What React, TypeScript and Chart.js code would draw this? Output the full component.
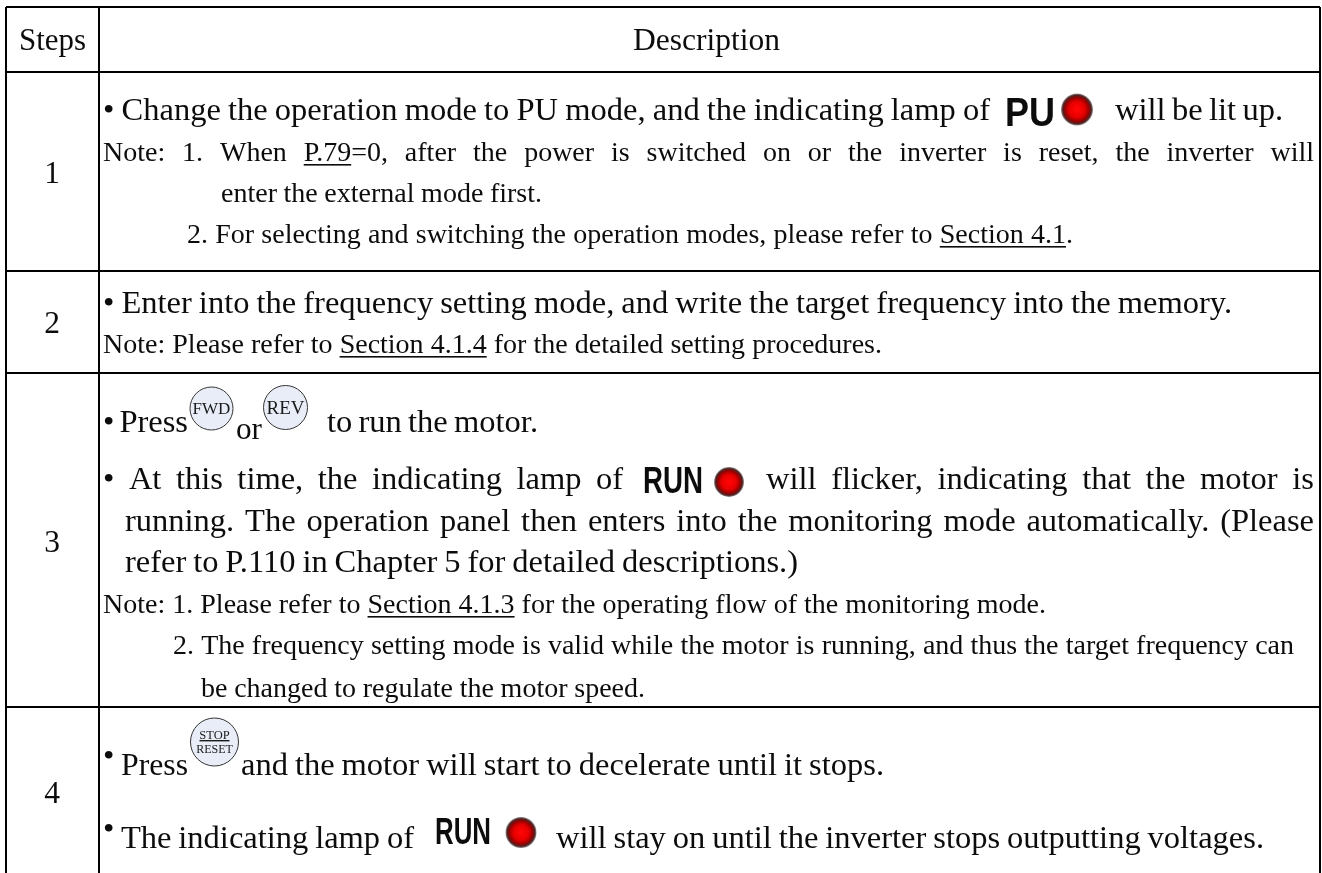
import React, { useEffect, useRef } from "react";
import { Chart, registerables } from "chart.js";

Chart.register(...registerables);

// ---- content ----
const headerLabels = ["Steps", "Description"];
const stepLabels = ["1", "2", "3", "4"];
const bodyLines = [
  "• Change the operation mode to PU mode, and the indicating lamp of",
  "will be lit up.",
  "• Enter into the frequency setting mode, and write the target frequency into the memory.",
  "• Press",
  "or",
  "to run the motor.",
  "• At this time, the indicating lamp of",
  "will flicker, indicating that the motor is",
  "running. The operation panel then enters into the monitoring mode automatically. (Please",
  "refer to P.110 in Chapter 5 for detailed descriptions.)",
  "Press",
  "and the motor will start to decelerate until it stops.",
  "The indicating lamp of",
  "will stay on until the inverter stops outputting voltages.",
];
const noteLines = [
  "Note: 1. When P.79=0, after the power is switched on or the inverter is reset, the inverter will",
  "enter the external mode first.",
  "2. For selecting and switching the operation modes, please refer to Section 4.1.",
  "Note: Please refer to Section 4.1.4 for the detailed setting procedures.",
  "Note: 1. Please refer to Section 4.1.3 for the operating flow of the monitoring mode.",
  "2. The frequency setting mode is valid while the motor is running, and thus the target frequency can",
  "be changed to regulate the motor speed.",
];
const underlinedParts = ["Section 4.1.4", "Section 4.1.3", "Section 4.1", "P.79"];
const panelLabels = ["PU", "RUN", "RUN"];
const buttonLabels = ["FWD", "REV", "STOP", "RESET"];
const bulletMark = "•";

// ---- table geometry, in the axis units of the chart ----
const columnEdges = [6, 99, 1320];
const rowEdges = [7, 72, 271, 373, 707];
const tableBottom = 873;
const tableRight = 1320;

// ---- marks ----
const buttonX = [211.5, 285.5, 214.5];
const buttonY = [408.5, 407.5, 742];
const buttonR = [21.5, 22, 24];
const lampX = [1077, 729, 521];
const lampY = [109.5, 482, 832.5];
const lampR = [16, 15, 15.5];

// ---- text layout: [start, end, baseline] ----
const headerPos = [[19, 86, 50], [633, 780, 50]];
const stepPos = [[52, 183], [52, 333], [52, 552], [52, 803]];
const bodyPos = [
  [103, 990, 120], [1115, 1283, 120], [103, 1232, 313], [103, 188, 432], [236, 262, 439],
  [327, 538, 432], [103, 623, 489], [766, 1314, 489], [125, 1314, 531], [125, 798, 572],
  [121, 188, 775], [241, 884, 775], [121, 414, 848], [556, 1264, 848],
];
const notePos = [
  [103, 1314, 161], [221, 542, 202], [187, 1073, 243], [103, 882, 353],
  [103, 1046, 613], [173, 1294, 654], [201, 645, 697],
];
const panelPos = [[1005, 1055, 126, 40], [643, 703, 493, 36], [435, 491, 844, 36]];
const buttonTextPos = [[211.5, 414, 17], [285.5, 414, 19], [214.5, 738.5, 12.5], [214.5, 753, 12]];
const raisedBullets = [[103, 766], [103, 839]];
const BODY_SIZE = 32.5;
const NOTE_SIZE = 28;
const HEAD_SIZE = 31.5;

const SERIF = '"Liberation Serif", "Times New Roman", serif';
const SANS = '"Liberation Sans", Arial, sans-serif';
const INK = "#0c0c0c";

function fitText(ctx: any, text: string, x0: number, x1: number, y: number, font: string) {
  ctx.font = font;
  ctx.wordSpacing = "0px";
  const natural = ctx.measureText(text).width;
  const gaps = (text.match(/ /g) || []).length;
  const target = x1 - x0;
  ctx.textAlign = "left";
  ctx.textBaseline = "alphabetic";
  ctx.fillStyle = INK;
  if (gaps === 0) {
    // a single word is squeezed to its width rather than re-spaced
    ctx.save();
    ctx.translate(x0, y);
    ctx.scale(target / natural, 1);
    ctx.fillText(text, 0, 0);
    ctx.restore();
    return;
  }
  ctx.wordSpacing = (target - natural) / gaps + "px";
  ctx.fillText(text, x0, y);
  for (const part of underlinedParts) {
    const at = text.indexOf(part);
    if (at >= 0) {
      const a = x0 + ctx.measureText(text.slice(0, at)).width;
      const b = x0 + ctx.measureText(text.slice(0, at + part.length)).width;
      ctx.fillRect(a, y + 3, b - a, 1.6);
      break;
    }
  }
  ctx.wordSpacing = "0px";
}

const tableTextPlugin = {
  id: "tableText",
  afterDatasetsDraw(chart: any) {
    const ctx = chart.ctx;
    const sx = chart.scales.x;
    const sy = chart.scales.y;
    const X = (v: number) => sx.getPixelForValue(v);
    const Y = (v: number) => sy.getPixelForValue(v);
    ctx.save();

    headerLabels.forEach((t, i) => {
      const [a, b, y] = headerPos[i];
      fitText(ctx, t, X(a), X(b), Y(y), `${HEAD_SIZE}px ${SERIF}`);
    });
    stepLabels.forEach((t, i) => {
      ctx.font = `${HEAD_SIZE}px ${SERIF}`;
      ctx.fillStyle = INK;
      ctx.textAlign = "center";
      ctx.textBaseline = "alphabetic";
      ctx.fillText(t, X(stepPos[i][0]), Y(stepPos[i][1]));
    });
    bodyLines.forEach((t, i) => {
      const [a, b, y] = bodyPos[i];
      fitText(ctx, t, X(a), X(b), Y(y), `${BODY_SIZE}px ${SERIF}`);
    });
    noteLines.forEach((t, i) => {
      const [a, b, y] = notePos[i];
      fitText(ctx, t, X(a), X(b), Y(y), `${NOTE_SIZE}px ${SERIF}`);
    });
    raisedBullets.forEach(([x, y]) => {
      ctx.font = `${BODY_SIZE}px ${SERIF}`;
      ctx.fillStyle = INK;
      ctx.textAlign = "left";
      ctx.fillText(bulletMark, X(x), Y(y));
    });
    panelLabels.forEach((t, i) => {
      const [a, b, y, size] = panelPos[i];
      fitText(ctx, t, X(a), X(b), Y(y), `bold ${size}px ${SANS}`);
    });
    buttonLabels.forEach((t, i) => {
      const [x, y, size] = buttonTextPos[i];
      ctx.font = `${size}px ${SERIF}`;
      ctx.fillStyle = "#1a1a1a";
      ctx.textAlign = "center";
      ctx.textBaseline = "alphabetic";
      ctx.fillText(t, X(x), Y(y));
    });
    // rule between STOP and RESET
    ctx.fillStyle = "#1a1a1a";
    ctx.fillRect(X(buttonX[2]) - 15, Y(buttonTextPos[2][1]) + 1.5, 30, 1.4);

    lampX.forEach((lx, i) => {
      const px = X(lx);
      const py = Y(lampY[i]);
      const r = lampR[i];
      const g = ctx.createRadialGradient(px, py, 1, px, py, r);
      g.addColorStop(0, "#ff0505");
      g.addColorStop(0.45, "#e80000");
      g.addColorStop(0.72, "#9c0000");
      g.addColorStop(0.88, "#4f2020");
      g.addColorStop(1, "#9a9494");
      ctx.fillStyle = g;
      ctx.beginPath();
      ctx.arc(px, py, r, 0, Math.PI * 2);
      ctx.fill();
    });
    ctx.restore();
  },
};

export default function App() {
  const ref = useRef<HTMLCanvasElement | null>(null);
  useEffect(() => {
    document.body.style.margin = "0";
    document.body.style.background = "#ffffff";
    const rules: any[] = [];
    columnEdges.forEach((x) =>
      rules.push({ data: [{ x, y: rowEdges[0] }, { x, y: tableBottom }] })
    );
    rowEdges.forEach((y) =>
      rules.push({ data: [{ x: columnEdges[0], y }, { x: tableRight, y }] })
    );
    const chart = new Chart(ref.current as HTMLCanvasElement, {
      type: "scatter",
      data: {
        datasets: [
          ...rules.map((r) => ({
            ...r,
            showLine: true,
            borderColor: "#000000",
            borderWidth: 2,
            pointRadius: 0,
            tension: 0,
          })),
          {
            data: buttonX.map((x, i) => ({ x, y: buttonY[i] })),
            showLine: false,
            pointStyle: "circle",
            pointRadius: buttonR,
            backgroundColor: "#e8edf7",
            borderColor: "#333333",
            borderWidth: 1,
          },
        ],
      },
      options: {
        animation: false,
        responsive: false,
        events: [],
        layout: { padding: 0, autoPadding: false },
        plugins: { legend: { display: false }, tooltip: { enabled: false }, title: { display: false } },
        scales: {
          x: { type: "linear", min: 0, max: 1322, display: false },
          y: { type: "linear", min: 0, max: 873, reverse: true, display: false },
        },
      },
      plugins: [tableTextPlugin],
    } as any);
    return () => chart.destroy();
  }, []);
  return <canvas ref={ref} width={1322} height={873} style={{ display: "block" }} />;
}
